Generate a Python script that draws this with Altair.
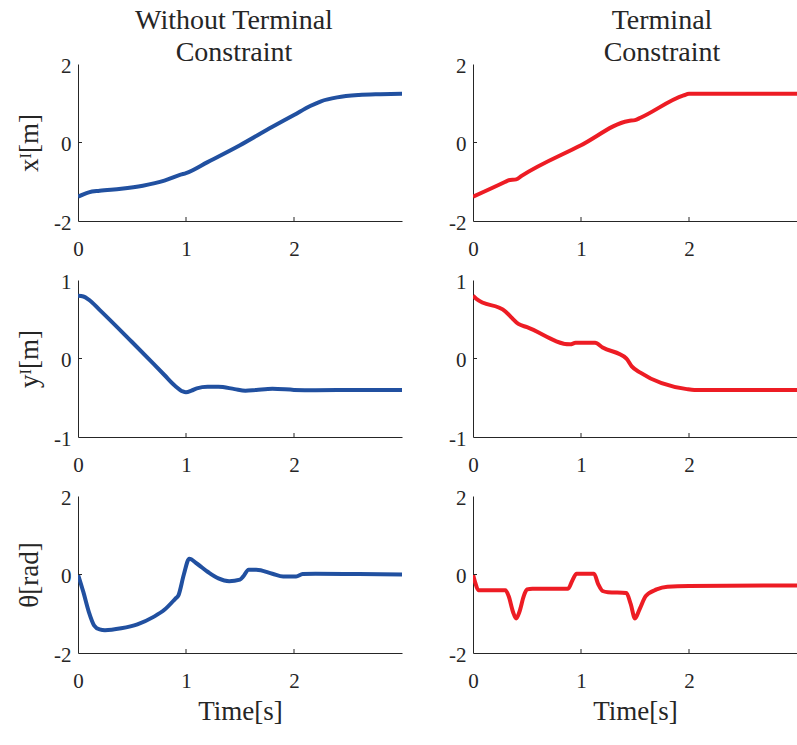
import altair as alt
import pandas as pd

# ---------------- data ----------------
# Row 1: x position [m]
T_X_FREE = [0.0, 0.05, 0.1, 0.2, 0.4, 0.6, 0.8, 0.95, 1.0, 1.2, 1.5, 1.8, 2.0, 2.15, 2.25, 2.4, 2.6, 2.8, 3.0]
V_X_FREE = [-1.38, -1.32, -1.27, -1.23, -1.18, -1.10, -0.97, -0.82, -0.78, -0.50, -0.07, 0.40, 0.70, 0.93, 1.05, 1.15, 1.21, 1.23, 1.24]

T_X_TERM = [0.0, 0.3, 0.33, 0.4, 0.45, 1.0, 1.44, 1.5, 1.55, 1.95, 2.0, 2.5, 3.0]
V_X_TERM = [-1.38, -1.0, -0.96, -0.94, -0.85, -0.07, 0.55, 0.57, 0.63, 1.20, 1.24, 1.24, 1.24]

# Row 2: y position [m]
T_Y_FREE = [0.0, 0.05, 0.1, 0.2, 0.5, 0.8, 0.9, 0.97, 1.0, 1.05, 1.1, 1.2, 1.3, 1.45, 1.55, 1.65, 1.8, 2.0, 2.2, 2.6, 3.0]
V_Y_FREE = [0.80, 0.79, 0.75, 0.62, 0.21, -0.21, -0.35, -0.42, -0.43, -0.41, -0.38, -0.36, -0.36, -0.39, -0.41, -0.40, -0.385, -0.40, -0.405, -0.40, -0.40]

T_Y_TERM = [0.0, 0.03, 0.3, 0.35, 0.42, 0.5, 0.9, 0.95, 1.13, 1.2, 1.42, 1.47, 1.55, 1.98, 2.05, 2.5, 3.0]
V_Y_TERM = [0.80, 0.76, 0.60, 0.53, 0.44, 0.40, 0.18, 0.20, 0.20, 0.14, 0.0, -0.10, -0.18, -0.39, -0.40, -0.40, -0.40]

# Row 3: heading [rad]
T_TH_FREE = [0.0, 0.05, 0.1, 0.15, 0.2, 0.25, 0.4, 0.55, 0.7, 0.8, 0.9, 0.93, 0.98, 1.03, 1.1, 1.2, 1.3, 1.4, 1.5,
             1.53, 1.58, 1.65, 1.8, 1.9, 2.02, 2.08, 2.2, 2.6, 3.0]
V_TH_FREE = [0.0, -0.45, -0.95, -1.30, -1.40, -1.42, -1.37, -1.27, -1.08, -0.90, -0.62, -0.53, 0.0, 0.40, 0.28, 0.07,
             -0.10, -0.17, -0.13, -0.05, 0.12, 0.12, 0.02, -0.05, -0.05, 0.01, 0.02, 0.01, 0.0]

T_TH_TERM = [0.0, 0.02, 0.05, 0.3, 0.33, 0.37, 0.4, 0.43, 0.47, 0.5, 0.55, 0.88, 0.92, 0.96, 1.12, 1.16, 1.2, 1.25,
             1.42, 1.46, 1.5, 1.54, 1.6, 1.7, 1.8, 2.0, 3.0]
V_TH_TERM = [0.0, -0.2, -0.40, -0.40, -0.55, -0.95, -1.12, -0.95, -0.55, -0.38, -0.36, -0.36, -0.15, 0.02, 0.02, -0.25,
             -0.42, -0.45, -0.47, -0.75, -1.12, -0.90, -0.55, -0.38, -0.31, -0.29, -0.28]

X_TICKS = [0, 1, 2]
Y_TICKS_POS = [-2, 0, 2]
Y_TICKS_Y = [-1, 0, 1]
COL_TITLES = [["Without Terminal", "Constraint"], ["Terminal", "Constraint"]]
ROW_TITLES = ["xᴵ[m]", "yᴵ[m]", "θ[rad]"]
X_TITLE = "Time[s]"

# ---------------- style ----------------
W, H = 324, 157
FONT = "Liberation Serif"
TXT = "#262626"
BLUE = "#2150A0"
RED = "#ED1C24"
LABEL_EXPR = "datum.value < 0 ? '-' + toString(abs(datum.value)) : toString(datum.value)"


def panel(t, v, ydom, yticks, ytitle, color, xtitle, title=None, title_dx=0):
    df = pd.DataFrame({"t": t, "v": v})
    xs = alt.Scale(domain=[0, 3], nice=False, zero=False)
    ys = alt.Scale(domain=ydom, nice=False, zero=False)
    xaxis = alt.Axis(values=X_TICKS, labelFlush=False, ticks=False, grid=False, labelPadding=17,
                     labelFontSize=21, labelFont=FONT, labelColor=TXT, domainColor=TXT, domainWidth=1,
                     labelOverlap=False, labelExpr=LABEL_EXPR,
                     title=xtitle, titleFont=FONT, titleFontSize=27,
                     titleFontWeight="normal", titleColor=TXT, titlePadding=7)
    yaxis = alt.Axis(values=yticks, ticks=False, grid=False, labelPadding=7, labelFontSize=21,
                     labelFont=FONT, labelColor=TXT, domainColor=TXT, domainWidth=1, labelOverlap=False,
                     labelFlush=False, labelOffset=2, labelExpr=LABEL_EXPR,
                     title=ytitle, titleFont=FONT, titleFontSize=27, titleFontWeight="normal",
                     titleColor=TXT, titlePadding=10)
    line = alt.Chart(df).mark_line(color=color, strokeWidth=4, interpolate="monotone", clip=True).encode(
        x=alt.X("t:Q", scale=xs, axis=xaxis),
        y=alt.Y("v:Q", scale=ys, axis=yaxis),
    )
    xt = alt.Chart(pd.DataFrame({"t": X_TICKS[1:]})).mark_rule(color=TXT, strokeWidth=1).encode(
        x=alt.X("t:Q", scale=xs, axis=xaxis),
        y=alt.value(H), y2=alt.value(H - 4),
    )
    yt = alt.Chart(pd.DataFrame({"v": yticks[1:-1]})).mark_rule(color=TXT, strokeWidth=1).encode(
        y=alt.Y("v:Q", scale=ys, axis=yaxis),
        x=alt.value(0), x2=alt.value(4),
    )
    props = dict(width=W, height=H)
    if title is not None:
        props["title"] = alt.TitleParams(text=title, font=FONT, fontSize=28, fontWeight="normal",
                                         color=TXT, anchor="middle", lineHeight=32, offset=-12,
                                         dx=title_dx)
    return alt.layer(line, xt, yt).properties(**props)


left = alt.vconcat(
    panel(T_X_FREE, V_X_FREE, [-2, 2], Y_TICKS_POS, ROW_TITLES[0], BLUE, None, COL_TITLES[0], -6),
    panel(T_Y_FREE, V_Y_FREE, [-1, 1], Y_TICKS_Y, ROW_TITLES[1], BLUE, None),
    panel(T_TH_FREE, V_TH_FREE, [-2, 2], Y_TICKS_POS, ROW_TITLES[2], BLUE, X_TITLE),
    spacing=12,
)
right = alt.vconcat(
    panel(T_X_TERM, V_X_TERM, [-2, 2], Y_TICKS_POS, None, RED, None, COL_TITLES[1], 27),
    panel(T_Y_TERM, V_Y_TERM, [-1, 1], Y_TICKS_Y, None, RED, None),
    panel(T_TH_TERM, V_TH_TERM, [-2, 2], Y_TICKS_POS, None, RED, X_TITLE),
    spacing=12,
)

chart = alt.hconcat(left, right, spacing=46).properties(
    padding={"left": 15, "top": 7, "right": 0, "bottom": 0},
    background="white",
).configure_view(stroke=None)

chart.save("out.html", embed_options={"renderer": "svg", "actions": False})
